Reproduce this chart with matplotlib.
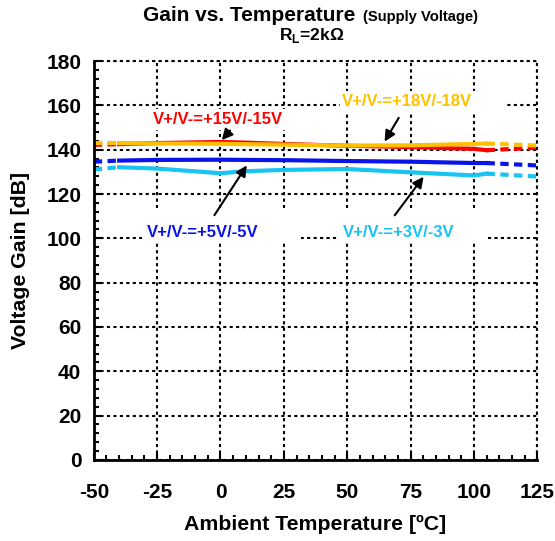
import numpy as np
import matplotlib
matplotlib.use("Agg")
import matplotlib.pyplot as plt
from matplotlib.patches import Rectangle
from matplotlib.ticker import MultipleLocator

plt.rcParams['font.family'] = ['Liberation Sans', 'DejaVu Sans']
plt.rcParams['axes.unicode_minus'] = False

# temperature points (deg C); first and last segments are drawn dashed (extrapolated)
temps = [-50, -40, -25, 0, 10, 25, 50, 75, 100, 105, 125]

gain_18v = [143.0, 143.0, 142.8, 142.7, 142.5, 142.3, 141.9, 142.0, 142.6, 142.8, 141.9]
gain_15v = [142.2, 142.5, 143.0, 143.5, 143.2, 142.6, 141.8, 141.2, 140.4, 139.8, 140.9]
gain_5v = [134.6, 135.1, 135.4, 135.5, 135.4, 135.3, 134.9, 134.6, 134.0, 134.0, 132.9]
gain_3v = [131.1, 132.1, 131.5, 129.4, 130.3, 130.9, 131.3, 129.8, 128.4, 129.2, 127.9]

series = [
    ("V+/V-=+18V/-18V", gain_18v, "#FFC000"),
    ("V+/V-=+15V/-15V", gain_15v, "#FF0000"),
    ("V+/V-=+5V/-5V", gain_5v, "#0A14E6"),
    ("V+/V-=+3V/-3V", gain_3v, "#17C4F2"),
]

fig = plt.figure(figsize=(5.55, 5.41), dpi=100)
ax = fig.add_axes([0.169, 0.150, 0.799, 0.737])

dash = (0, (2, 1.3))
# draw 15V first so 18V (yellow) sits on top where they overlap
for idx in [1, 0, 2, 3]:
    name, g, col = series[idx]
    ax.plot(temps[:2], g[:2], color=col, lw=3, ls=dash, zorder=2)
    ax.plot(temps[1:10], g[1:10], color=col, lw=3, zorder=2)
    ax.plot(temps[9:], g[9:], color=col, lw=3, ls=dash, zorder=2)

ax.set_xlim(-50, 125)
ax.set_ylim(0, 180)
ax.xaxis.set_major_locator(MultipleLocator(25))
ax.xaxis.set_minor_locator(MultipleLocator(5))
ax.yaxis.set_major_locator(MultipleLocator(20))
ax.yaxis.set_minor_locator(MultipleLocator(4))
ax.tick_params(which="both", direction="in", width=1.5, top=False, right=False)
ax.tick_params(which="major", length=5, labelsize=15)
ax.tick_params(which="minor", length=3.5)
ax.tick_params(axis="x", pad=17)
ax.tick_params(axis="y", pad=9)
for lab in ax.get_xticklabels() + ax.get_yticklabels():
    lab.set_fontweight("bold")
for side in ["left", "bottom"]:
    ax.spines[side].set_linewidth(2)
for side in ["top", "right"]:
    ax.spines[side].set_visible(False)
grid_ls = (0, (1.5, 1.6))
ax.grid(True, which="major", color="black", ls=grid_ls, lw=1.5)
ax.axhline(180, color="black", ls=grid_ls, lw=1.5, clip_on=False, zorder=1)
ax.axvline(125, color="black", ls=grid_ls, lw=1.5, clip_on=False, zorder=1)
ax.set_axisbelow(True)

ax.set_xlabel("Ambient Temperature [ºC]", fontsize=15.3, fontweight="bold", labelpad=9)
ax.set_ylabel("Voltage Gain [dB]", fontsize=15.3, fontweight="bold", labelpad=12)

fig.text(0.258, 0.962, "Gain vs. Temperature", fontsize=15, fontweight="bold",
         ha="left", va="baseline")
fig.text(0.654, 0.962, "(Supply Voltage)", fontsize=10.6, fontweight="bold",
         ha="left", va="baseline")
fig.text(0.562, 0.926, r"R$_\mathregular{L}$=2kΩ", fontsize=12.5, fontweight="bold",
         ha="center", va="baseline")

# white label boxes, arrows and labels
arrow = dict(arrowstyle="-|>", color="black", lw=1.5, mutation_scale=16)
labels = [
    # (series index, box x0, box x1, box y0, box y1, text x, text y, arrow tail, arrow head)
    (1, -27.9, 31.4, 148.7, 158.6, -26.7, 153.6, (4.5, 149.6), (-0.2, 143.4)),
    (0, 47.2, 113.2, 156.8, 166.7, 48.0, 161.8, (70.9, 155.5), (64.2, 142.6)),
    (2, -31.0, 31.8, 98.6, 113.5, -29.1, 102.7, (-3.0, 109.4), (11.0, 134.0)),
    (3, 46.4, 105.7, 98.6, 113.5, 48.4, 102.7, (68.1, 109.4), (80.8, 128.8)),
]
for i, bx0, bx1, by0, by1, tx, ty, tail, head in labels:
    name, g, col = series[i]
    ax.add_patch(Rectangle((bx0, by0), bx1 - bx0, by1 - by0, facecolor="white",
                           edgecolor="none", zorder=3))
    ax.text(tx, ty, name, color=col, fontsize=12, fontweight="bold",
            ha="left", va="center", zorder=5)
    ax.annotate("", xy=head, xytext=tail, arrowprops=arrow, zorder=4)

fig.savefig("out.png", dpi=100)
